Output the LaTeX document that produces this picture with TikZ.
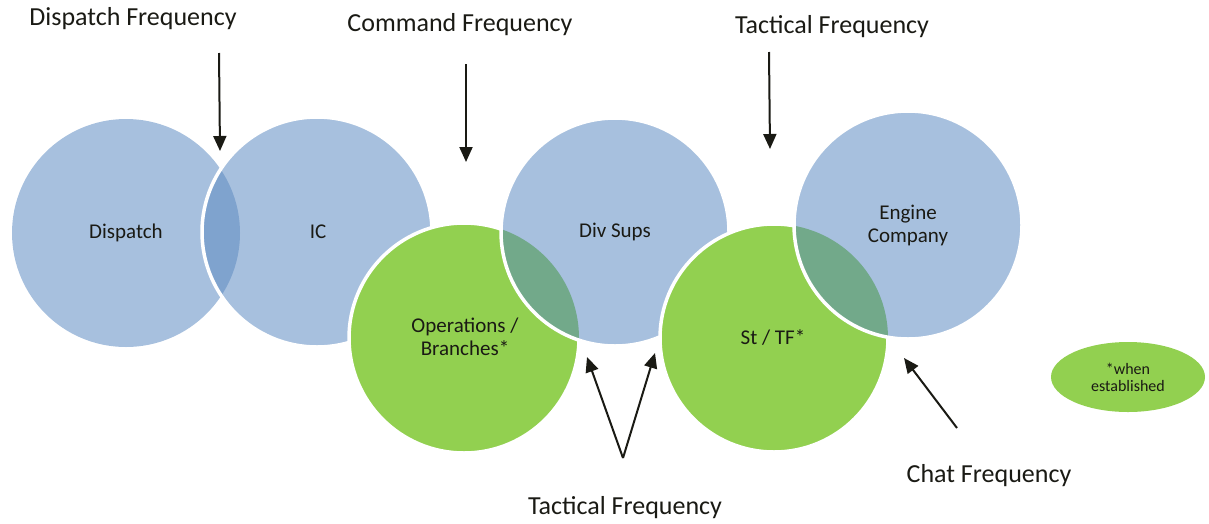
\documentclass[tikz,border=0pt]{standalone}
\usepackage{fontspec}
\setmainfont{Carlito}
\usetikzlibrary{arrows.meta,shapes.geometric}
\definecolor{cblue}{HTML}{A7C0DE}
\definecolor{cbluedark}{HTML}{7FA3CE}
\definecolor{cgreen}{HTML}{92D050}
\definecolor{cteal}{HTML}{72A98A}
\definecolor{ink}{HTML}{1A1A14}
\begin{document}
\begin{tikzpicture}[x=1pt,y=-1pt,
  ring/.style={draw=white,line width=3.5pt},
  lbl/.style={font=\fontsize{21}{23}\selectfont, align=center, text=ink, inner sep=0pt},
  freq/.style={font=\fontsize{26}{30}\selectfont, text=ink, inner sep=0pt},
  legend/.style={ellipse, fill=cgreen, minimum width=154pt, minimum height=70pt, inner sep=0pt,
    font=\fontsize{16}{17}\selectfont, align=center, text=ink},
  arr/.style={draw=ink, line width=2pt, -{Triangle[length=15pt,width=13pt]}}]
\useasboundingbox (0,0) rectangle (1209,523);

% Dispatch
\fill[cblue] (126,233) circle[radius=114pt];
% IC
\fill[cblue] (317,232) circle[radius=115pt];
\begin{scope}
  \clip (126,233) circle[radius=114pt];
  \fill[cbluedark] (317,232) circle[radius=115pt];
\end{scope}
\draw[ring] (317,232) circle[radius=115pt];
% Operations / Branches
\fill[cgreen] (464,338) circle[radius=115pt];
\draw[ring] (464,338) circle[radius=115pt];
% Div Sups
\fill[cblue] (615,232) circle[radius=114pt];
\begin{scope}
  \clip (464,338) circle[radius=115pt];
  \fill[cteal] (615,232) circle[radius=114pt];
\end{scope}
\draw[ring] (615,232) circle[radius=114pt];
% St / TF
\fill[cgreen] (774,338) circle[radius=114pt];
\draw[ring] (774,338) circle[radius=114pt];
% Engine Company
\fill[cblue] (908,225) circle[radius=114pt];
\begin{scope}
  \clip (774,338) circle[radius=114pt];
  \fill[cteal] (908,225) circle[radius=114pt];
\end{scope}
\draw[ring] (908,225) circle[radius=114pt];

% circle labels
\node[lbl] (disp) at (126,233) {Dispatch};
\node[lbl] (ic) at (318,232) {IC};
\node[lbl] (ops) at (465,337) {Operations /\\Branches*};
\node[lbl] (div) at (615,232) {Div Sups};
\node[lbl] (sttf) at (773,337) {St / TF*};
\node[lbl] (eng) at (908,225) {Engine\\Company};
\node[legend] (leg) at (1128,377) {*when\\established};

% frequency labels
\node[freq] (fdisp) at (133,19) {Dispatch Frequency};
\node[freq] (fcmd) at (460,25) {Command Frequency};
\node[freq] (ftac) at (832,27) {Tactical Frequency};
\node[freq] (ftacb) at (625,508) {Tactical Frequency};
\node[freq] (fchat) at (989,476) {Chat Frequency};

% arrow end points
\coordinate (a1s) at (219,53);  \coordinate (a1e) at (220,151);
\coordinate (a2s) at (466,64);  \coordinate (a2e) at (466,162);
\coordinate (a3s) at (769,52);  \coordinate (a3e) at (770,149);
\coordinate (a4s) at (623,458); \coordinate (a4e) at (587,357);
\coordinate (a5e) at (655,353);
\coordinate (a6s) at (957,428); \coordinate (a6e) at (904,358);

\draw[arr] (a1s) -- (a1e);
\draw[arr] (a2s) -- (a2e);
\draw[arr] (a3s) -- (a3e);
\draw[arr] (a4s) -- (a4e);
\draw[arr] (a4s) -- (a5e);
\draw[arr] (a6s) -- (a6e);
\end{tikzpicture}
\end{document}
